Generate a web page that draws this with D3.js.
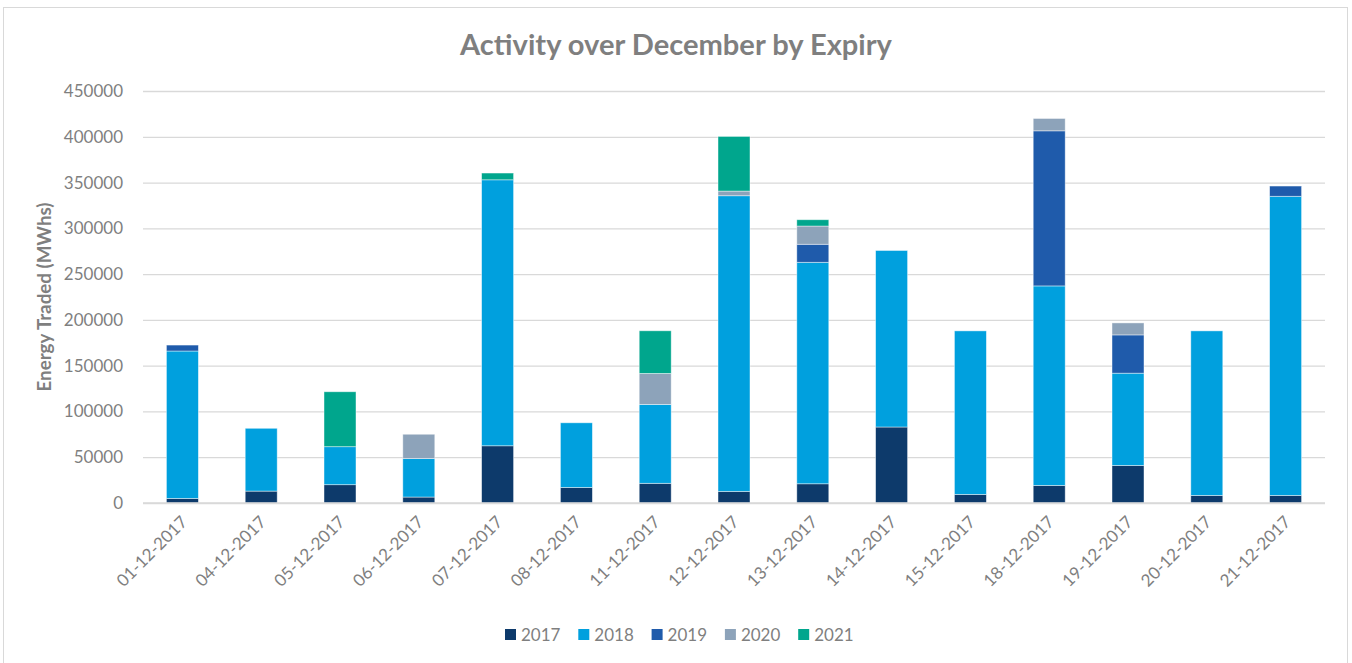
<!DOCTYPE html>
<html><head><meta charset="utf-8">
<script src="https://cdn.jsdelivr.net/npm/d3@7"></script>
<style>
html,body{margin:0;padding:0;background:#fff;}
svg{display:block;font-family:Lato,"Open Sans",sans-serif;}
</style></head>
<body>
<svg id="chart" width="1352" height="663"></svg>
<script>
const dates = ["01-12-2017","04-12-2017","05-12-2017","06-12-2017","07-12-2017","08-12-2017","11-12-2017","12-12-2017","13-12-2017","14-12-2017","15-12-2017","18-12-2017","19-12-2017","20-12-2017","21-12-2017"];
const seriesNames = ["2017","2018","2019","2020","2021"];
const v2017 = [5000,13000,20000,6500,62500,17000,21500,12700,21000,83000,9400,19200,41000,8300,8300];
const v2018 = [161000,68600,41500,42000,290500,70600,86200,322900,241900,192800,178600,217900,100800,179700,326700];
const v2019 = [6500,0,0,0,0,0,0,0,19700,0,0,169400,41800,0,11200];
const v2020 = [0,0,0,26600,0,0,33800,5100,19900,0,0,13500,13100,0,0];
const v2021 = [0,0,60000,0,7400,0,46600,59700,6900,0,0,0,0,0,0];
const yTicks = [0,50000,100000,150000,200000,250000,300000,350000,400000,450000];
const colors = ["#0d3a6b","#00a0de","#1f5bab","#8da3ba","#00a68d"];

(function(){
const rows = dates.map((d,i)=>({date:d,"2017":v2017[i],"2018":v2018[i],"2019":v2019[i],"2020":v2020[i],"2021":v2021[i]}));

const svg = d3.select("#chart");
const pL=143,pR=1325,pT=91,pB=503;

function fit(sel, size, target){
  sel.style("font-size", size+"px");
  const w = sel.node().getComputedTextLength();
  if (w>0) sel.style("font-size", (size*target/w)+"px");
}

svg.append("rect").attr("x",3.5).attr("y",7.5).attr("width",1344).attr("height",670)
  .attr("fill","#fff").attr("stroke","#d9d9d9").attr("stroke-width",1);

const x = d3.scaleBand().domain(dates).range([pL,pR]).paddingInner(0.594).paddingOuter(0.297);
const y = d3.scaleLinear().domain([0,450000]).range([pB,pT]);
const color = d3.scaleOrdinal().domain(seriesNames).range(colors);

const yAxis = d3.axisLeft(y).tickValues(yTicks).tickSize(-(pR-pL)).tickPadding(20).tickFormat(d3.format("d"));
const gy = svg.append("g").attr("transform",`translate(${pL},0)`).call(yAxis);
gy.select(".domain").remove();
gy.selectAll(".tick line").attr("stroke","#d9d9d9").attr("stroke-width",1.3);
gy.selectAll(".tick text").attr("fill","#7f7f7f").style("font-size","17px").style("font-family","Lato");

const stacked = d3.stack().keys(seriesNames)(rows);
svg.append("g").selectAll("g").data(stacked).join("g")
  .attr("fill",d=>color(d.key))
  .selectAll("rect").data(d=>d.filter(s=>s[1]-s[0]>0)).join("rect")
  .attr("x",d=>x(d.data.date))
  .attr("width",x.bandwidth())
  .attr("y",d=>y(d[1]))
  .attr("height",d=>y(d[0])-y(d[1]))
  .attr("stroke","rgba(255,255,255,0.55)").attr("stroke-width",0.8);

const xAxis = d3.axisBottom(x).tickSize(0).tickPadding(0);
const gx = svg.append("g").attr("transform",`translate(0,${pB})`).call(xAxis);
gx.select(".domain").remove();
gx.selectAll(".tick text")
  .attr("fill","#7f7f7f").style("font-size","17px").style("font-family","Lato")
  .attr("text-anchor","end").attr("dy",0).attr("y",0)
  .attr("transform","translate(6,20) rotate(-45)");
svg.append("line").attr("x1",pL).attr("x2",pR).attr("y1",y(0)).attr("y2",y(0))
  .attr("stroke","#d9d9d9").attr("stroke-width",1.5);

const title = svg.append("text").attr("x",676).attr("y",55).attr("text-anchor","middle")
  .attr("fill","#7f7f7f").style("font-weight","bold").style("font-family","Lato")
  .text("Activity over December by Expiry");
fit(title, 25, 432);

const ytitle = svg.append("text").attr("transform",`translate(51,297) rotate(-90)`).attr("text-anchor","middle")
  .attr("fill","#7f7f7f").style("font-weight","bold").style("font-family","Lato")
  .text("Energy Traded (MWhs)");
fit(ytitle, 15, 189);

const legend = svg.append("g").attr("transform","translate(505,635)");
const li = legend.selectAll("g").data(seriesNames).join("g").attr("transform",(d,i)=>`translate(${i*73.3},0)`);
li.append("rect").attr("x",0).attr("y",-6).attr("width",11).attr("height",11).attr("fill",d=>color(d));
li.append("text").attr("x",16).attr("y",0).attr("dy","0.35em").attr("fill","#7f7f7f")
  .style("font-size","17px").style("font-family","Lato").text(d=>d);
})();
</script>
</body></html>
